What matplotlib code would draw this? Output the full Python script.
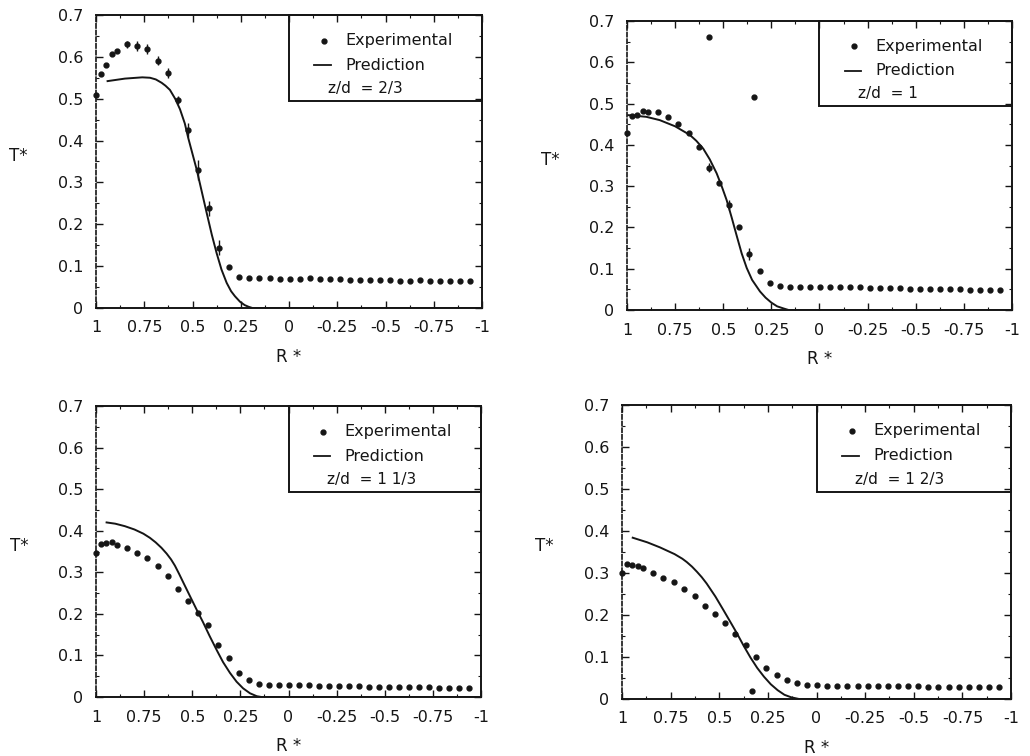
import matplotlib
matplotlib.use("Agg")
import matplotlib.pyplot as plt
from matplotlib.patches import Rectangle
from matplotlib.ticker import MultipleLocator

plt.rcParams["font.family"] = ["DejaVu Sans"]
plt.rcParams["axes.unicode_minus"] = False

# radial positions of the measured points (same for all four stations)
R_EXP = [1.0, 0.973, 0.947, 0.918, 0.89, 0.84, 0.787, 0.734, 0.68, 0.627,
         0.574, 0.521, 0.469, 0.417, 0.364, 0.31, 0.258, 0.205, 0.153, 0.101,
         0.049, -0.003, -0.055, -0.107, -0.159, -0.211, -0.263, -0.315, -0.367, -0.419,
         -0.471, -0.523, -0.575, -0.627, -0.679, -0.731, -0.783, -0.835, -0.887, -0.939]

# z/d = 2/3
T_EXP_1 = [0.509, 0.559, 0.580, 0.607, 0.615, 0.630, 0.625, 0.619, 0.591, 0.562,
           0.497, 0.425, 0.330, 0.238, 0.144, 0.099, 0.073, 0.072, 0.071, 0.071,
           0.070, 0.069, 0.069, 0.071, 0.069, 0.069, 0.070, 0.068, 0.068, 0.067,
           0.067, 0.066, 0.065, 0.065, 0.066, 0.065, 0.064, 0.064, 0.064, 0.065]
ERR_1 = [0, 0, 0, 0, 0, 0.008, 0.012, 0.012, 0.010, 0.012,
         0.010, 0.016, 0.024, 0.018, 0.018, 0, 0, 0, 0, 0,
         0, 0, 0, 0, 0, 0, 0, 0, 0, 0,
         0, 0, 0, 0, 0, 0, 0, 0, 0, 0]
R_PRED_1 = [0.94, 0.85, 0.76, 0.72, 0.69, 0.66, 0.64, 0.617, 0.59, 0.565,
            0.54, 0.522, 0.50, 0.478, 0.452, 0.426, 0.40, 0.375, 0.35, 0.323,
            0.30, 0.28, 0.254, 0.23, 0.21, 0.19, -1.0]
T_PRED_1 = [0.542, 0.548, 0.551, 0.550, 0.546, 0.538, 0.531, 0.521, 0.500, 0.475,
            0.441, 0.406, 0.368, 0.330, 0.278, 0.226, 0.175, 0.131, 0.092, 0.060,
            0.040, 0.028, 0.015, 0.007, 0.003, 0.0, 0.0]

# z/d = 1
T_EXP_2 = [0.429, 0.471, 0.472, 0.482, 0.480, 0.480, 0.467, 0.451, 0.428, 0.396,
           0.345, 0.307, 0.254, 0.202, 0.136, 0.095, 0.066, 0.058, 0.057, 0.057,
           0.056, 0.056, 0.055, 0.057, 0.055, 0.056, 0.054, 0.054, 0.053, 0.053,
           0.052, 0.052, 0.051, 0.051, 0.050, 0.050, 0.049, 0.049, 0.049, 0.048]
ERR_2 = [0, 0, 0, 0, 0, 0, 0, 0, 0, 0,
         0.010, 0, 0.012, 0, 0.015, 0, 0, 0, 0, 0,
         0, 0, 0, 0, 0, 0, 0, 0, 0, 0,
         0, 0, 0, 0, 0, 0, 0, 0, 0, 0]
R_OUT_2 = [0.572, 0.339]
T_OUT_2 = [0.662, 0.515]
R_PRED_2 = [0.993, 0.9, 0.83, 0.75, 0.673, 0.64, 0.604, 0.57, 0.534, 0.508,
            0.482, 0.456, 0.43, 0.404, 0.378, 0.35, 0.309, 0.28, 0.25, 0.22,
            0.188, 0.16, -1.0]
T_PRED_2 = [0.472, 0.468, 0.460, 0.445, 0.424, 0.410, 0.391, 0.365, 0.331, 0.300,
            0.266, 0.224, 0.180, 0.137, 0.102, 0.073, 0.045, 0.030, 0.018, 0.009,
            0.004, 0.0, 0.0]

# z/d = 1 1/3
T_EXP_3 = [0.346, 0.368, 0.370, 0.372, 0.366, 0.359, 0.347, 0.334, 0.315, 0.292,
           0.260, 0.232, 0.203, 0.173, 0.125, 0.093, 0.057, 0.041, 0.031, 0.030,
           0.029, 0.029, 0.028, 0.028, 0.027, 0.027, 0.027, 0.026, 0.026, 0.025,
           0.025, 0.025, 0.024, 0.024, 0.023, 0.023, 0.022, 0.022, 0.022, 0.021]
R_PRED_3 = [0.945, 0.9, 0.85, 0.8, 0.754, 0.72, 0.69, 0.66, 0.633, 0.61,
            0.59, 0.568, 0.546, 0.51, 0.477, 0.444, 0.41, 0.373, 0.34, 0.304,
            0.27, 0.236, 0.2, 0.165, 0.14, -1.0]
T_PRED_3 = [0.420, 0.417, 0.411, 0.403, 0.393, 0.383, 0.372, 0.359, 0.345, 0.331,
            0.316, 0.296, 0.275, 0.241, 0.210, 0.180, 0.147, 0.113, 0.084, 0.058,
            0.037, 0.021, 0.009, 0.002, 0.0, 0.0]

# z/d = 1 2/3
T_EXP_4 = [0.301, 0.321, 0.319, 0.317, 0.311, 0.301, 0.289, 0.279, 0.262, 0.246,
           0.221, 0.202, 0.180, 0.155, 0.129, 0.101, 0.073, 0.057, 0.045, 0.037,
           0.033, 0.033, 0.032, 0.032, 0.032, 0.031, 0.031, 0.031, 0.030, 0.030,
           0.030, 0.030, 0.029, 0.029, 0.029, 0.029, 0.028, 0.028, 0.028, 0.028]
R_OUT_4 = [0.333]
T_OUT_4 = [0.020]
R_PRED_4 = [0.945, 0.87, 0.805, 0.73, 0.69, 0.667, 0.64, 0.615, 0.59, 0.565,
            0.52, 0.479, 0.445, 0.41, 0.375, 0.34, 0.305, 0.27, 0.235, 0.2,
            0.165, 0.13, 0.09, -1.0]
T_PRED_4 = [0.384, 0.373, 0.361, 0.345, 0.334, 0.326, 0.315, 0.303, 0.290, 0.275,
            0.244, 0.212, 0.185, 0.157, 0.127, 0.099, 0.074, 0.053, 0.035, 0.021,
            0.010, 0.004, 0.0, 0.0]

STATIONS = ["z/d  = 2/3", "z/d  = 1", "z/d  = 1 1/3", "z/d  = 1 2/3"]
X_TICKS = [1, 0.75, 0.5, 0.25, 0, -0.25, -0.5, -0.75, -1]
X_LABELS = ["1", "0.75", "0.5", "0.25", "0", "-0.25", "-0.5", "-0.75", "-1"]
Y_TICKS = [0, 0.1, 0.2, 0.3, 0.4, 0.5, 0.6, 0.7]
Y_LABELS = ["0", "0.1", "0.2", "0.3", "0.4", "0.5", "0.6", "0.7"]

INK = "#151515"

fig = plt.figure(figsize=(10.3, 7.56), dpi=100)
boxes = [[0.0932, 0.5926, 0.3748, 0.3876],
         [0.6087, 0.5899, 0.3738, 0.3823],
         [0.0932, 0.0780, 0.3738, 0.3849],
         [0.6039, 0.0754, 0.3777, 0.3889]]

panels = [
    (T_EXP_1, ERR_1, None, None, R_PRED_1, T_PRED_1),
    (T_EXP_2, ERR_2, R_OUT_2, T_OUT_2, R_PRED_2, T_PRED_2),
    (T_EXP_3, None, None, None, R_PRED_3, T_PRED_3),
    (T_EXP_4, None, R_OUT_4, T_OUT_4, R_PRED_4, T_PRED_4),
]


def draw_key(ax, station):
    ax.add_patch(Rectangle((0.5, 0.705), 0.5, 0.295, transform=ax.transAxes,
                           fill=False, edgecolor=INK, lw=1.4, zorder=5, clip_on=False))
    ax.plot([0.59], [0.912], "o", ms=3.5, color=INK, transform=ax.transAxes)
    ax.plot([0.566, 0.608], [0.828, 0.828], "-", lw=1.3, color=INK,
            transform=ax.transAxes)
    ax.text(0.645, 0.912, "Experimental", transform=ax.transAxes, fontsize=11.5,
            va="center", ha="left", color=INK)
    ax.text(0.645, 0.828, "Prediction", transform=ax.transAxes, fontsize=11.5,
            va="center", ha="left", color=INK)
    ax.text(0.6, 0.748, station, transform=ax.transAxes, fontsize=11,
            va="center", ha="left", color=INK)


for i, (t_exp, err, r_out, t_out, r_pred, t_pred) in enumerate(panels):
    ax = fig.add_axes(boxes[i])
    if err is not None:
        ax.errorbar(R_EXP, t_exp, yerr=err, fmt="o", ms=3.5, color=INK,
                    elinewidth=1.0, capsize=0, clip_on=False, zorder=3)
    else:
        ax.plot(R_EXP, t_exp, "o", ms=3.5, color=INK, clip_on=False, zorder=3)
    if r_out is not None:
        ax.plot(r_out, t_out, "o", ms=3.5, color=INK, zorder=3)
    ax.plot(r_pred, t_pred, "-", lw=1.4, color=INK, zorder=2)

    ax.set_xlim(1, -1)
    ax.set_ylim(0, 0.7)
    ax.set_xticks(X_TICKS)
    ax.set_xticklabels(X_LABELS)
    ax.set_yticks(Y_TICKS)
    ax.set_yticklabels(Y_LABELS)
    ax.xaxis.set_minor_locator(MultipleLocator(0.125))
    ax.yaxis.set_minor_locator(MultipleLocator(0.05))
    ax.tick_params(which="both", direction="in", top=True, right=True,
                   labelsize=11.5, colors=INK, pad=9)
    ax.tick_params(which="major", length=5, width=1)
    ax.tick_params(which="minor", length=2.5, width=0.8)
    for side in ["top", "right", "bottom"]:
        ax.spines[side].set_linewidth(1.4)
        ax.spines[side].set_color(INK)
    ax.spines["left"].set_linewidth(1.2)
    ax.spines["left"].set_color(INK)
    ax.spines["left"].set_linestyle((0, (2.5, 1.5)))

    ax.set_xlabel("R *", fontsize=12, color=INK, labelpad=9)
    ax.set_ylabel("T*", fontsize=12, color=INK, rotation=0, va="center", ha="center")
    ax.yaxis.set_label_coords(-0.2, 0.52)
    draw_key(ax, STATIONS[i])

fig.savefig("out.png", dpi=100, facecolor="white")
